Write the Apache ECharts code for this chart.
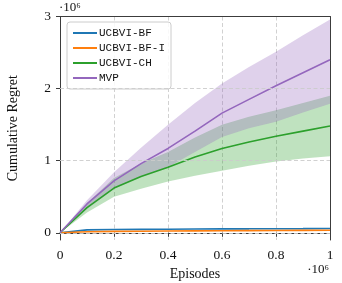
<!DOCTYPE html>
<html>
<head>
<meta charset="utf-8">
<script src="https://cdn.jsdelivr.net/npm/echarts@6/dist/echarts.min.js"></script>
<style>html,body{margin:0;padding:0;background:#fff}#c{width:342px;height:283px}</style>
</head>
<body>
<div id="c"></div>
<script>
// Episodes (in units of 1e6)
const episodes = [0, 0.1, 0.2, 0.3, 0.4, 0.5, 0.6, 0.7, 0.8, 0.9, 1.0];
// Cumulative regret (in units of 1e6)
const ucbviBF   = [0, 0.040, 0.045, 0.048, 0.050, 0.052, 0.054, 0.055, 0.057, 0.058, 0.060];
const ucbviBFI  = [0, 0.015, 0.020, 0.022, 0.024, 0.026, 0.028, 0.030, 0.032, 0.034, 0.035];
const ucbviCH   = [0, 0.35, 0.62, 0.78, 0.91, 1.05, 1.17, 1.26, 1.34, 1.41, 1.48];
const ucbviCHHi = [0, 0.41, 0.76, 0.96, 1.12, 1.32, 1.50, 1.61, 1.70, 1.80, 1.90];
const ucbviCHLo = [0, 0.28, 0.50, 0.61, 0.71, 0.79, 0.86, 0.93, 0.99, 1.03, 1.06];
const mvp       = [0, 0.40, 0.72, 0.96, 1.17, 1.41, 1.66, 1.85, 2.04, 2.22, 2.40];
const mvpHi     = [0, 0.45, 0.84, 1.18, 1.50, 1.80, 2.07, 2.30, 2.51, 2.74, 2.96];
const mvpLo     = [0, 0.33, 0.61, 0.78, 0.91, 1.12, 1.33, 1.45, 1.54, 1.67, 1.79];
const seriesNames = ['UCBVI-BF', 'UCBVI-BF-I', 'UCBVI-CH', 'MVP'];
const colors = ['#1f77b4', '#ff7f0e', '#2ca02c', '#9467bd'];
const yTicks = [0, 1, 2, 3];

const pairs = (ys) => episodes.map((x, i) => [x, ys[i]]);

const serif = 'Liberation Serif';
const axisColor = '#3c3c3c';

// Shaded band between lo and hi, converted through the chart's own scales
const band = (name, hi, lo, color) => ({
  name, type: 'custom', silent: true, z: 2,
  data: [[episodes[0], lo[0]]],
  encode: { x: 0, y: 1 },
  renderItem: (params, api) => {
    const pts = [];
    episodes.forEach((x, i) => pts.push(api.coord([x, hi[i]])));
    for (let i = episodes.length - 1; i >= 0; i--) pts.push(api.coord([episodes[i], lo[i]]));
    return { type: 'polygon', shape: { points: pts }, style: { fill: color } };
  }
});
const line = (i, ys) => ({
  name: seriesNames[i], type: 'line', data: pairs(ys), symbol: 'none',
  lineStyle: { color: colors[i], width: 1.6 }, itemStyle: { color: colors[i] }, z: 4
});

const chart = echarts.init(document.getElementById('c'), null, { renderer: 'canvas' });
chart.setOption({
  animation: false,
  grid: { left: 60, right: 12, top: 16.5, bottom: 43, containLabel: false, outerBoundsMode: 'none' },
  legend: {
    data: seriesNames.map((n, i) => ({ name: n, icon: 'rect', itemStyle: { color: colors[i] } })),
    orient: 'vertical', left: 67, top: 22,
    itemWidth: 24, itemHeight: 2, itemGap: 3,
    padding: [5, 6, 5, 6],
    borderColor: '#cccccc', borderWidth: 1, borderRadius: 3,
    backgroundColor: 'rgba(255,255,255,0.85)',
    textStyle: { fontFamily: 'Liberation Mono', fontSize: 11, color: '#111', lineHeight: 12, padding: [0, 0, 0, -3] }
  },
  xAxis: [{
    type: 'value', min: 0, max: 1, interval: 0.2,
    name: 'Episodes', nameLocation: 'middle', nameGap: 23,
    nameTextStyle: { fontFamily: serif, fontSize: 14, color: '#111' },
    axisLine: { show: true, lineStyle: { color: axisColor, width: 1 } },
    axisTick: { show: true, length: 4, lineStyle: { color: axisColor } },
    axisLabel: { fontFamily: serif, fontSize: 13.5, color: '#111', margin: 8,
      formatter: v => String(Math.round(v * 10) / 10) },
    splitLine: { show: true, lineStyle: { color: '#cccccc', type: [4, 2.5], width: 0.9 } }
  }, {
    type: 'value', min: 0, max: 1, position: 'top',
    axisLine: { show: true, onZero: false, lineStyle: { color: axisColor, width: 1 } },
    axisTick: { show: false }, axisLabel: { show: false }, splitLine: { show: false }
  }],
  yAxis: [{
    type: 'value', min: -0.1, max: 3,
    name: 'Cumulative Regret', nameLocation: 'middle', nameGap: 40,
    nameTextStyle: { fontFamily: serif, fontSize: 14, color: '#111' },
    axisLine: { show: true, onZero: false, lineStyle: { color: axisColor, width: 1 } },
    axisTick: { show: true, length: 4, customValues: yTicks, lineStyle: { color: axisColor } },
    axisLabel: { fontFamily: serif, fontSize: 13.5, color: '#111', margin: 9, customValues: yTicks,
      formatter: v => String(Math.round(v)) },
    splitLine: { show: false }
  }, {
    type: 'value', min: -0.1, max: 3, position: 'right',
    axisLine: { show: true, onZero: false, lineStyle: { color: axisColor, width: 1 } },
    axisTick: { show: false }, axisLabel: { show: false }, splitLine: { show: false }
  }],
  graphic: [
    { type: 'text', left: 59, top: 1, style: { text: '·10⁶', font: '13px "Liberation Serif"', fill: '#111' } },
    { type: 'text', right: 13, top: 263, style: { text: '·10⁶', font: '13px "Liberation Serif"', fill: '#111' } }
  ],
  series: [
    {
      name: 'grid-y', type: 'line', data: [], silent: true, z: 1,
      markLine: {
        silent: true, symbol: 'none', label: { show: false }, animation: false,
        lineStyle: { color: '#cccccc', type: [4, 2.5], width: 0.9 },
        data: yTicks.slice(0, 3).map(v => ({ yAxis: v }))
      }
    },
    band('ch-band', ucbviCHHi, ucbviCHLo, 'rgba(44,160,44,0.3)'),
    band('mvp-band', mvpHi, mvpLo, 'rgba(148,103,189,0.3)'),
    line(0, ucbviBF),
    line(1, ucbviBFI),
    line(2, ucbviCH),
    line(3, mvp)
  ]
});
</script>
</body>
</html>
